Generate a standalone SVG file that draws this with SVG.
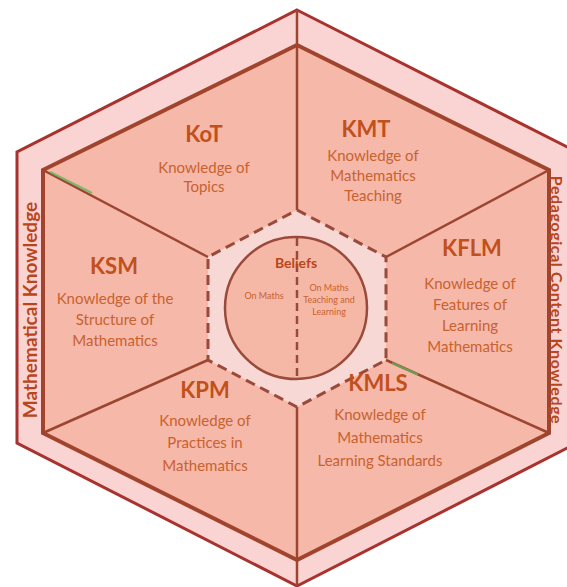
<svg xmlns="http://www.w3.org/2000/svg" width="567" height="587" viewBox="0 0 567 587">
<style>
  .title { font-family: Lato, "Liberation Sans", sans-serif; font-weight: bold; font-size: 22px; fill: #c0501c; text-anchor: middle; }
  .body { font-family: Lato, "Liberation Sans", sans-serif; font-size: 15px; fill: #c8622f; text-anchor: middle; }
  .band { font-family: Lato, "Liberation Sans", sans-serif; font-weight: bold; fill: #b9461b; text-anchor: middle; }
  .small { font-family: Lato, "Liberation Sans", sans-serif; font-size: 9px; fill: #c8622f; text-anchor: middle; }
  .radial { stroke: #9c4531; stroke-width: 2.5; fill: none; }
  .glitch { stroke: #5cb85c; stroke-width: 2; opacity: 0.8; }
</style>
<rect width="567" height="587" fill="#ffffff"/>
<g id="outer-band">
  <polygon points="297,10 577,152 577,443 297,586 17,443 17,152" fill="#fad4d2" stroke="#a8322e" stroke-width="3"/>
</g>
<g id="inner-hexagon">
  <polygon points="297,45 549,170 549,433 297,560 43,433 43,170" fill="#f6b8a8" stroke="#a0442e" stroke-width="4"/>
</g>
<g id="connectors">
  <line class="radial" x1="297" y1="10" x2="297" y2="210"/>
  <line class="radial" x1="297" y1="407" x2="297" y2="586"/>
  <line class="radial" x1="43" y1="170" x2="208" y2="257"/>
  <line class="radial" x1="549" y1="170" x2="386" y2="257"/>
  <line class="radial" x1="549" y1="433" x2="386" y2="360"/>
  <line class="radial" x1="43" y1="433" x2="208" y2="360"/>
  <line class="glitch" x1="50" y1="172" x2="92" y2="193"/>
  <line class="glitch" x1="392" y1="363" x2="418" y2="374.5" opacity="0.5"/>
</g>
<g id="beliefs">
  <polygon points="297,210 386,257 386,360 297,407 208,360 208,257" fill="#f8d8d4" stroke="#9a4a3a" stroke-width="3" stroke-dasharray="10 6"/>
  <circle cx="296" cy="308" r="71" fill="#f5b8a6" stroke="#9a4a3a" stroke-width="2.5"/>
  <line x1="297" y1="238" x2="297" y2="379" stroke="#9a4a3a" stroke-width="2.5" stroke-dasharray="8 5"/>
  <text x="296" y="268" font-family="Lato, 'Liberation Sans', sans-serif" font-weight="bold" font-size="14" fill="#b9461b" text-anchor="middle">Beliefs</text>
  <text class="small" x="264" y="299">On Maths</text>
  <text class="small" x="329" y="291">On Maths</text>
  <text class="small" x="329" y="303">Teaching and</text>
  <text class="small" x="329" y="315">Learning</text>
</g>
<g id="kot">
  <text class="title" x="204" y="142">KoT</text>
  <text class="body" x="204" y="173">Knowledge of</text>
  <text class="body" x="204" y="192">Topics</text>
</g>
<g id="kmt">
  <text class="title" x="366" y="137">KMT</text>
  <text class="body" x="373" y="161">Knowledge of</text>
  <text class="body" x="373" y="181">Mathematics</text>
  <text class="body" x="373" y="201">Teaching</text>
</g>
<g id="ksm">
  <text class="title" x="114" y="274">KSM</text>
  <text class="body" x="115" y="304">Knowledge of the</text>
  <text class="body" x="115" y="325">Structure of</text>
  <text class="body" x="115" y="346">Mathematics</text>
</g>
<g id="kflm">
  <text class="title" x="472" y="256">KFLM</text>
  <text class="body" x="470" y="289">Knowledge of</text>
  <text class="body" x="470" y="310">Features of</text>
  <text class="body" x="470" y="331">Learning</text>
  <text class="body" x="470" y="352">Mathematics</text>
</g>
<g id="kpm">
  <text class="title" x="205" y="398">KPM</text>
  <text class="body" x="205" y="426">Knowledge of</text>
  <text class="body" x="205" y="448">Practices in</text>
  <text class="body" x="205" y="471">Mathematics</text>
</g>
<g id="kmls">
  <text class="title" x="378" y="391">KMLS</text>
  <text class="body" x="380" y="420">Knowledge of</text>
  <text class="body" x="380" y="443">Mathematics</text>
  <text class="body" x="380" y="466">Learning Standards</text>
</g>
<g id="mathematical-knowledge">
  <text class="band" font-size="19" transform="translate(37,310) rotate(-90)">Mathematical Knowledge</text>
</g>
<g id="pedagogical-content-knowledge">
  <text class="band" font-size="16" letter-spacing="0.6" transform="translate(551,300) rotate(90)">Pedagogical Content Knowledge</text>
</g>
</svg>
